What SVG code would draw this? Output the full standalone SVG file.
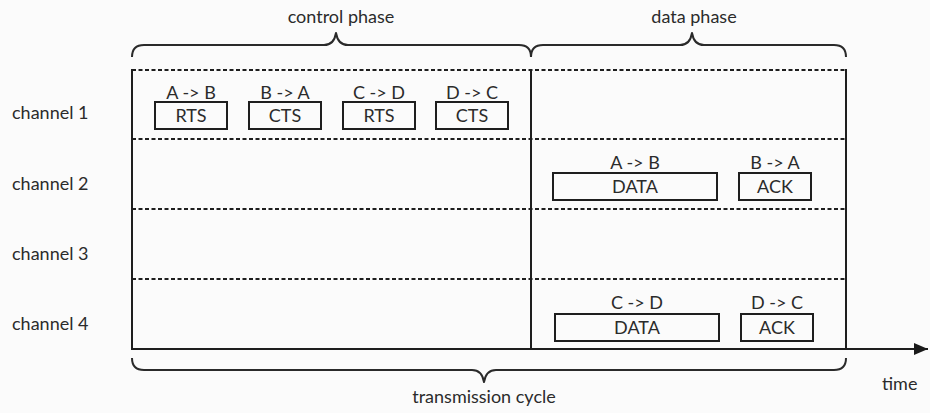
<svg xmlns="http://www.w3.org/2000/svg" width="930" height="413" viewBox="0 0 930 413">
  <defs>
    <marker id="arrow" viewBox="0 0 14 12" refX="14" refY="6" markerWidth="14" markerHeight="12" markerUnits="userSpaceOnUse" orient="auto">
      <path d="M0,0 L14,6 L0,12 z" fill="#1a1a1a"/>
    </marker>
  </defs>
  <style>
    text { font-family: Lato, "Open Sans", "Liberation Sans", sans-serif; font-size: 18px; fill: #2b2b2b; }
    .mid { text-anchor: middle; }
    .line { stroke: #1e1e1e; stroke-width: 2; fill: none; }
    .dash { stroke: #1e1e1e; stroke-width: 2; stroke-dasharray: 4 2.5; fill: none; }
    .brace { stroke: #2a2a2a; stroke-width: 2; fill: none; stroke-linejoin: round; }
    .box { fill: none; stroke: #1e1e1e; stroke-width: 2; }
  </style>
  <rect width="930" height="413" fill="#fbfbfb"/>

  <!-- channel labels -->
  <g id="channel-labels">
    <text x="12" y="119">channel 1</text>
    <text x="12" y="190">channel 2</text>
    <text x="12" y="260">channel 3</text>
    <text x="12" y="330">channel 4</text>
  </g>

  <!-- frame and channel separators -->
  <g id="frame">
    <line class="dash" x1="132" y1="70" x2="846" y2="70"/>
    <line class="dash" x1="132" y1="139" x2="846" y2="139"/>
    <line class="dash" x1="132" y1="209" x2="846" y2="209"/>
    <line class="dash" x1="132" y1="279" x2="846" y2="279"/>
    <line class="line" x1="132" y1="69" x2="132" y2="349"/>
    <line class="line" x1="531" y1="69" x2="531" y2="349"/>
    <line class="line" x1="846" y1="69" x2="846" y2="349"/>
  </g>

  <!-- time axis -->
  <g id="connectors">
    <line class="line" x1="131" y1="349" x2="928" y2="349" marker-end="url(#arrow)"/>
  </g>
  <text x="882" y="390">time</text>

  <!-- phase braces -->
  <g id="control-phase">
    <path class="brace" d="M132,57 Q132,45 144,45 L324,45 Q334,45 336,33 Q338,45 348,45 L519,45 Q531,45 531,57"/>
    <text class="mid" x="341" y="23">control phase</text>
  </g>
  <g id="data-phase">
    <path class="brace" d="M531,57 Q531,45 543,45 L680,45 Q690,45 692,33 Q694,45 704,45 L834,45 Q846,45 846,57"/>
    <text class="mid" x="694" y="23">data phase</text>
  </g>
  <g id="transmission-cycle">
    <path class="brace" d="M132,358 Q132,370 144,370 L472,370 Q482,370 484,382 Q486,370 496,370 L834,370 Q846,370 846,358"/>
    <text class="mid" x="484" y="403">transmission cycle</text>
  </g>

  <!-- channel 1: control frames -->
  <g id="rts-ab">
    <rect class="box" x="155" y="102" width="72" height="27"/>
    <text class="mid" x="191" y="99">A -&gt; B</text>
    <text class="mid" x="191" y="122">RTS</text>
  </g>
  <g id="cts-ba">
    <rect class="box" x="249" y="102" width="72" height="27"/>
    <text class="mid" x="285" y="99">B -&gt; A</text>
    <text class="mid" x="285" y="122">CTS</text>
  </g>
  <g id="rts-cd">
    <rect class="box" x="343" y="102" width="72" height="27"/>
    <text class="mid" x="379" y="99">C -&gt; D</text>
    <text class="mid" x="379" y="122">RTS</text>
  </g>
  <g id="cts-dc">
    <rect class="box" x="436" y="102" width="72" height="27"/>
    <text class="mid" x="472" y="99">D -&gt; C</text>
    <text class="mid" x="472" y="122">CTS</text>
  </g>

  <!-- channel 2: A/B exchange -->
  <g id="data-ab">
    <rect class="box" x="553" y="173" width="164" height="27"/>
    <text class="mid" x="635" y="169">A -&gt; B</text>
    <text class="mid" x="635" y="193">DATA</text>
  </g>
  <g id="ack-ba">
    <rect class="box" x="739" y="173" width="72" height="27"/>
    <text class="mid" x="775" y="169">B -&gt; A</text>
    <text class="mid" x="775" y="193">ACK</text>
  </g>

  <!-- channel 4: C/D exchange -->
  <g id="data-cd">
    <rect class="box" x="555" y="314" width="164" height="27"/>
    <text class="mid" x="637" y="309">C -&gt; D</text>
    <text class="mid" x="637" y="334">DATA</text>
  </g>
  <g id="ack-dc">
    <rect class="box" x="741" y="314" width="72" height="27"/>
    <text class="mid" x="777" y="309">D -&gt; C</text>
    <text class="mid" x="777" y="334">ACK</text>
  </g>
</svg>
